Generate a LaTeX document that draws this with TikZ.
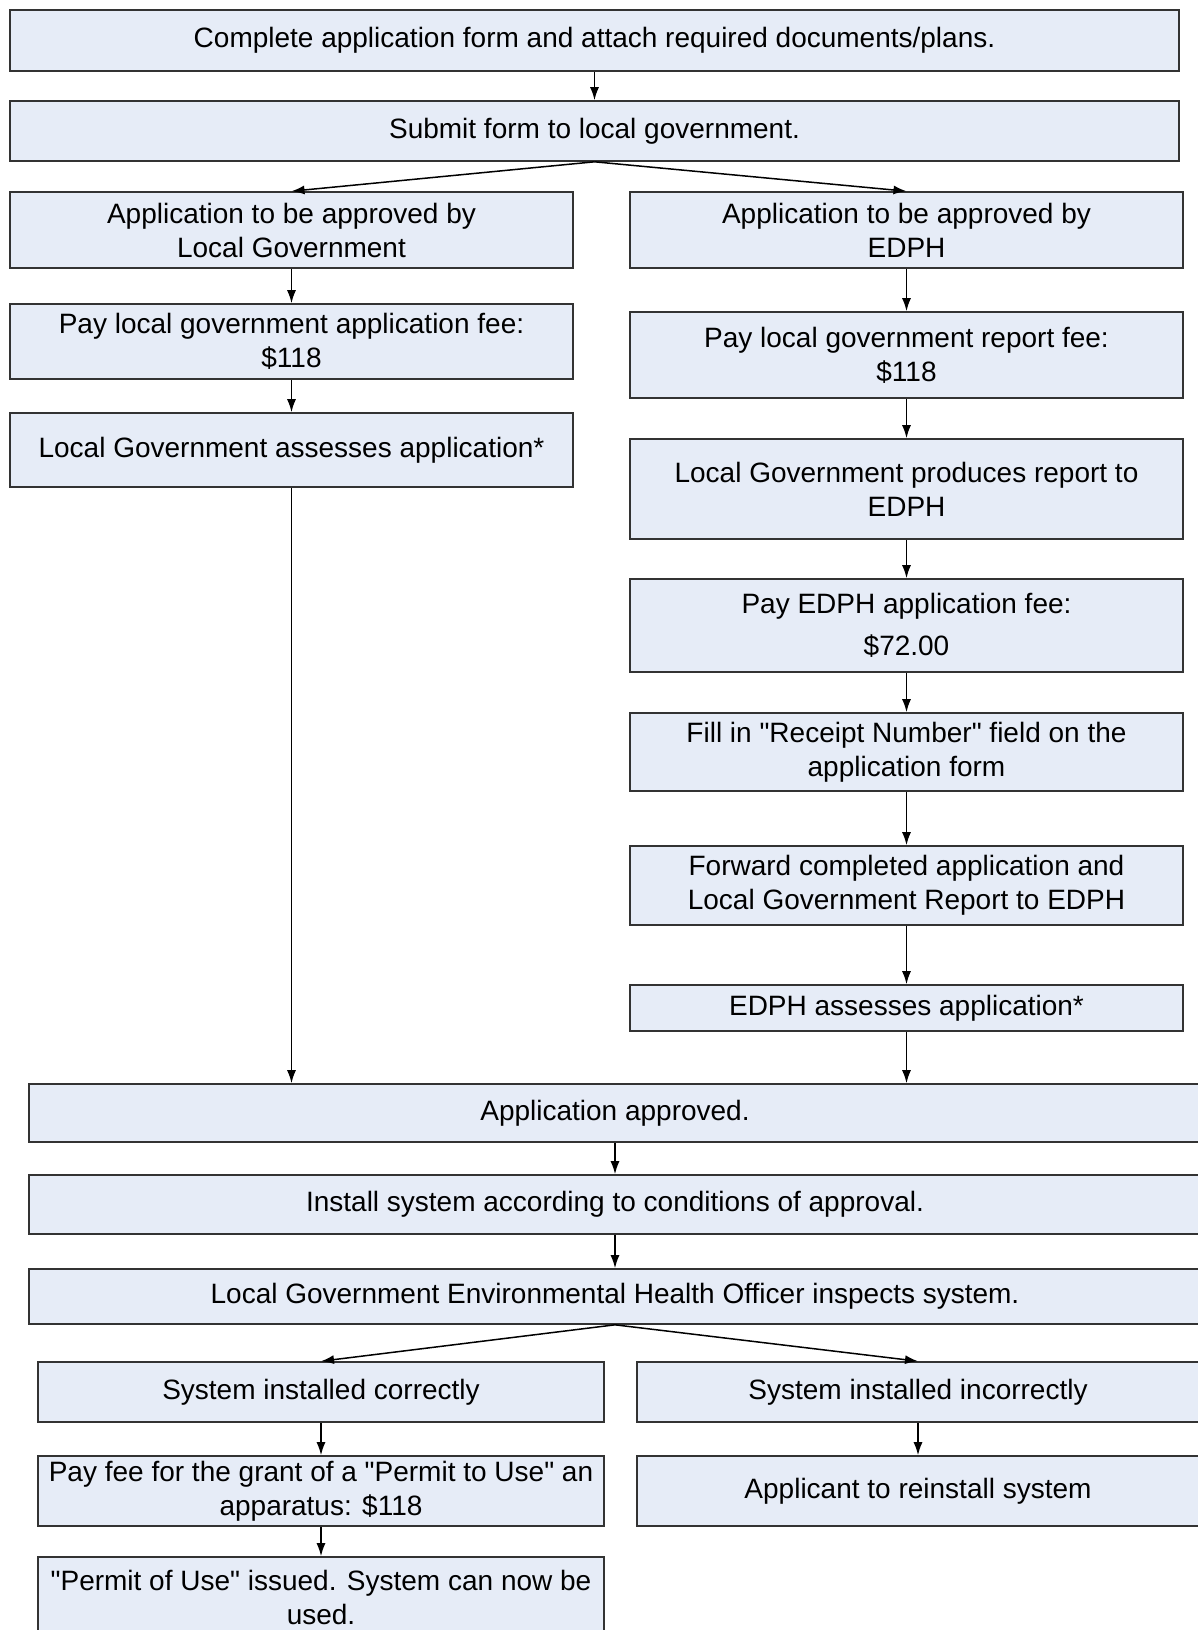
\documentclass[tikz,border=0pt]{standalone}
\usepackage{fontspec}
\setmainfont{Liberation Sans}
\usepackage{tikz}
\usetikzlibrary{arrows.meta}

\definecolor{boxfill}{RGB}{230,236,247}
\definecolor{boxline}{RGB}{51,51,51}

\begin{document}
\begin{tikzpicture}[x=1pt,y=-1pt,
		box/.style={draw=boxline,fill=boxfill,line width=1.6pt,inner sep=0pt,
			align=center,font=\fontsize{28}{34}\selectfont},
		wide/.style={box,minimum width=1169pt},
		lcol/.style={box,minimum width=563pt},
		rcol/.style={box,minimum width=553pt},
		flow/.style={->,line width=1.5pt,>={Latex[length=13pt,width=9pt]}}]
		\useasboundingbox (0,0) rectangle (1197,1630);
		% top
		\node[wide,minimum height=61pt] (form) at (594.5,40.5) {Complete application form and attach required documents/plans.};
		\node[wide,minimum height=60pt] (submit) at (594.5,131) {Submit form to local government.};
		% local government branch
		\node[lcol,minimum height=76pt] (lg1) at (291.5,230) {Application to be approved by\\Local Government};
		\node[lcol,minimum height=75pt] (lg2) at (291.5,341.5) {Pay local government application fee:\\\$118};
		\node[lcol,minimum height=74pt] (lg3) at (291.5,450) {Local Government assesses application*};
		% EDPH branch
		\node[rcol,minimum height=76pt] (ed1) at (906.5,230) {Application to be approved by\\EDPH};
		\node[rcol,minimum height=86pt] (ed2) at (906.5,355) {Pay local government report fee:\\\$118};
		\node[rcol,minimum height=100pt] (ed3) at (906.5,489) {Local Government produces report to\\EDPH};
		\node[rcol,minimum height=93pt] (ed4) at (906.5,625.5) {Pay EDPH application fee:\\[8pt]\$72.00};
		\node[rcol,minimum height=78pt] (ed5) at (906.5,752) {Fill in \textquotedbl Receipt Number\textquotedbl{} field on the\\application form};
		\node[rcol,minimum height=79pt] (ed6) at (906.5,885.5) {Forward completed application and\\Local Government Report to EDPH};
		\node[rcol,minimum height=46pt] (ed7) at (906.5,1008) {EDPH assesses application*};
		% approval and installation
		\node[box,minimum width=1172pt,minimum height=58pt] (approved) at (615,1113) {Application approved.};
		\node[box,minimum width=1172pt,minimum height=59pt] (install) at (615,1204.5) {Install system according to conditions of approval.};
		\node[box,minimum width=1172pt,minimum height=55pt] (inspect) at (615,1296.5) {Local Government Environmental Health Officer inspects system.};
		% inspection result
		\node[box,minimum width=566pt,minimum height=60pt] (ok1) at (321,1392) {System installed correctly};
		\node[box,minimum width=566pt,minimum height=70pt] (ok2) at (321,1491) {Pay fee for the grant of a \textquotedbl Permit to Use\textquotedbl{} an\\apparatus: \$118};
		\node[box,minimum width=566pt,minimum height=80pt] (ok3) at (321,1597) {\textquotedbl Permit of Use\textquotedbl{} issued. System can now be\\used.};
		\node[box,minimum width=562pt,minimum height=60pt] (bad1) at (918,1392) {System installed incorrectly};
		\node[box,minimum width=562pt,minimum height=70pt] (bad2) at (918,1491) {Applicant to reinstall system};
		%
		\coordinate (lgin) at (lg3.south |- approved.north);
		\coordinate (edin) at (ed7.south |- approved.north);
		%
		\path[flow]
		% straight arrows
		(form) edge (submit)
		(lg1) edge (lg2)
		(lg2) edge (lg3)
		(ed1) edge (ed2)
		(ed2) edge (ed3)
		(ed3) edge (ed4)
		(ed4) edge (ed5)
		(ed5) edge (ed6)
		(ed6) edge (ed7)
		(lg3.south) edge (lgin)
		(ed7.south) edge (edin)
		(approved) edge (install)
		(install) edge (inspect)
		(ok1) edge (ok2)
		(ok2) edge (ok3)
		(bad1) edge (bad2)
		% branching arrows
		(submit.south) edge (lg1.north)
		(submit.south) edge (ed1.north)
		(inspect.south) edge (ok1.north)
		(inspect.south) edge (bad1.north);
	\end{tikzpicture}
\end{document}
